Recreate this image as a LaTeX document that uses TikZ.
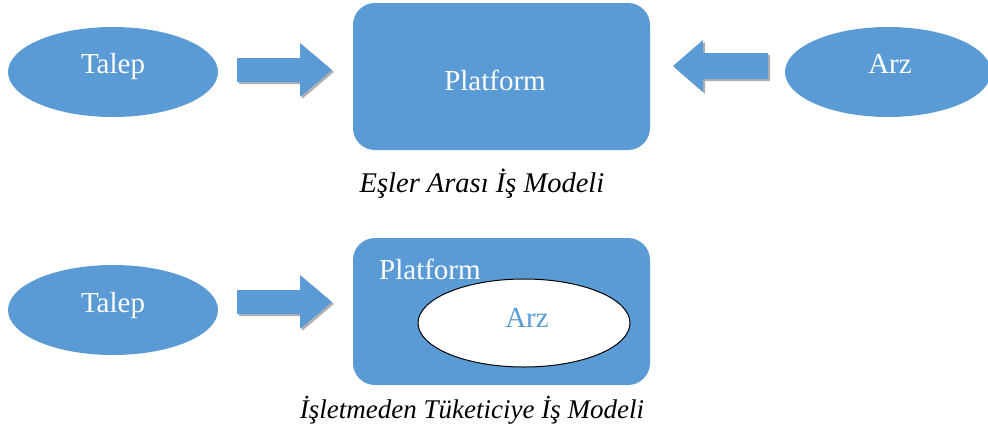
\documentclass[tikz,border=0pt]{standalone}
\usepackage{fontspec}
\setmainfont{Liberation Serif}
\usetikzlibrary{shapes.geometric}
\definecolor{obl}{HTML}{5B9BD5}
\definecolor{shd}{HTML}{B0B0B0}
\begin{document}
\begin{tikzpicture}[x=1pt,y=-1pt,
  oval/.style={ellipse, fill=obl, minimum width=210pt, minimum height=90pt, inner sep=0pt},
  plat/.style={rectangle, rounded corners=22pt, fill=obl, minimum width=297pt, minimum height=147pt, inner sep=0pt},
  lbl/.style={text=white, font=\fontsize{29}{32}\selectfont, inner sep=0pt, anchor=base},
  captext/.style={font=\fontsize{27}{30}\selectfont\itshape, inner sep=0pt, anchor=base}
]
\useasboundingbox (0,0) rectangle (988,432);
\begin{scope}
\clip (0,0) rectangle (988,432);
% top row
\node[oval] (talep1) at (113,72) {};
\node[lbl] (talep1t) at (113,73) {Talep};
\node[plat] (plat1) at (501.5,76.5) {};
\node[lbl] (plat1t) at (495,90) {Platform};
\node[oval, minimum width=206pt] (arz1) at (888,72) {};
\node[lbl] (arz1t) at (890,73) {Arz};
\node[captext, font=\fontsize{28.5}{31}\selectfont\itshape] (cap1) at (482,192) {Eşler Arası İş Modeli};

% block arrows (with light shadow)
\foreach \c/\s in {shd/2, obl/0}{
  \begin{scope}[shift={(\s,\s)}]
    % Talep -> Platform (top)
    \fill[\c] (237,58) -- (300,58) -- (300,43) -- (332,70) -- (300,97) -- (300,82) -- (237,82) -- cycle;
    % Arz -> Platform (top)
    \fill[\c] (768,53) -- (703,53) -- (703,40) -- (673,66) -- (703,92) -- (703,79) -- (768,79) -- cycle;
    % Talep -> Platform (bottom)
    \fill[\c] (237,290) -- (300,290) -- (300,275) -- (332,302) -- (300,329) -- (300,314) -- (237,314) -- cycle;
  \end{scope}
}

% bottom row
\node[oval] (talep2) at (113,310) {};
\node[lbl] (talep2t) at (113,312) {Talep};
\node[plat] (plat2) at (501.5,311.5) {};
\node[lbl, anchor=base west] (plat2t) at (379,279) {Platform};
\node[ellipse, fill=white, draw=black, line width=1pt, minimum width=212pt, minimum height=88pt, inner sep=0pt] (arz2) at (524,323) {};
\node[lbl, text=obl] (arz2t) at (527,327) {Arz};
\node[captext] (cap2) at (472,418) {İşletmeden Tüketiciye İş Modeli};
\end{scope}
\end{tikzpicture}
\end{document}
